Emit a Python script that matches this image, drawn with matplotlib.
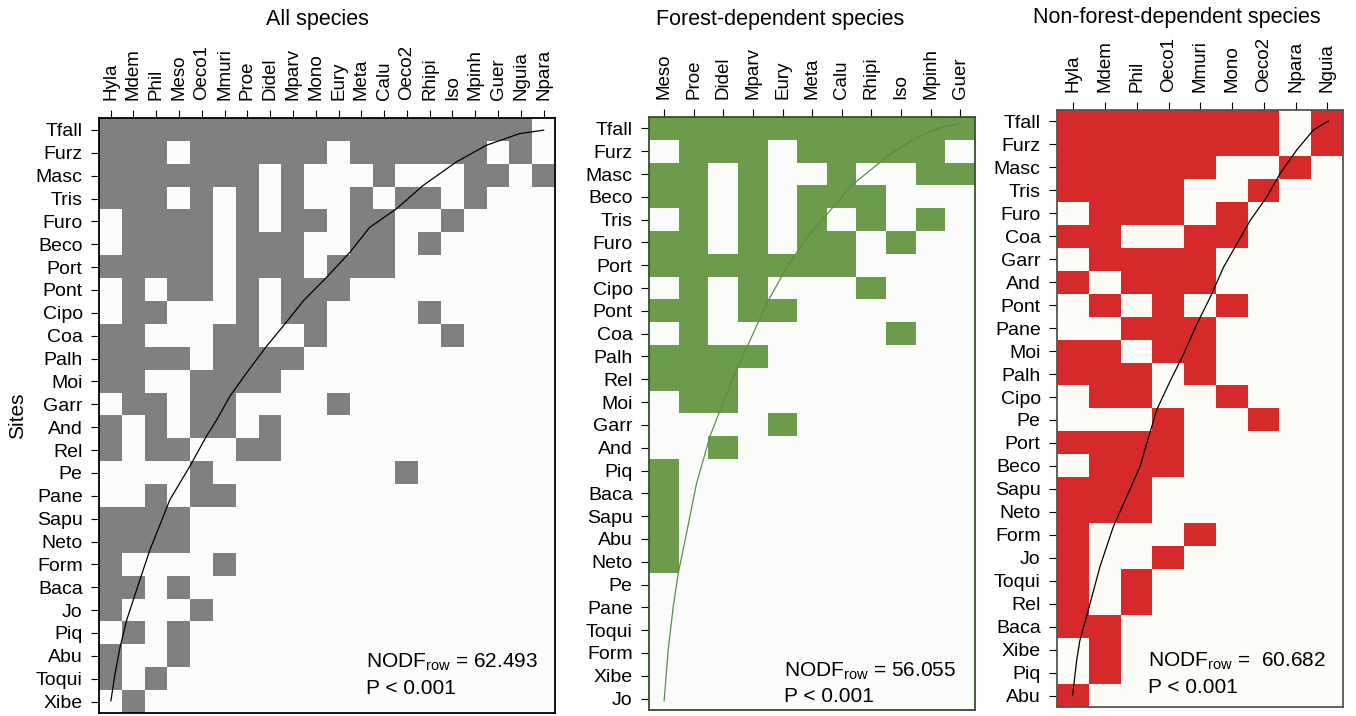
import numpy as np
import matplotlib
matplotlib.use("Agg")
import matplotlib.pyplot as plt
from matplotlib.colors import ListedColormap

plt.rcParams['font.family'] = ['Liberation Sans', 'DejaVu Sans']
plt.rcParams['mathtext.fontset'] = 'custom'
plt.rcParams['mathtext.rm'] = 'Liberation Sans'
plt.rcParams['mathtext.it'] = 'Liberation Sans:italic'

# ---------------- all species ----------------
all_species = ["Hyla", "Mdem", "Phil", "Meso", "Oeco1", "Mmuri", "Proe", "Didel",
               "Mparv", "Mono", "Eury", "Meta", "Calu", "Oeco2", "Rhipi", "Iso",
               "Mpinh", "Guer", "Nguia", "Npara"]
all_sites = ["Tfall", "Furz", "Masc", "Tris", "Furo", "Beco", "Port", "Pont", "Cipo",
             "Coa", "Palh", "Moi", "Garr", "And", "Rel", "Pe", "Pane", "Sapu", "Neto",
             "Form", "Baca", "Jo", "Piq", "Abu", "Toqui", "Xibe"]
all_matrix = [
    "11111111111111111110",
    "11101111110111111010",
    "11111110100010001101",
    "11101010100101101000",
    "01111010110110010000",
    "01111011100110100000",
    "11111011101110000000",
    "01011010111000000000",
    "01100010110000100000",
    "11000110010000010000",
    "11110111100000000000",
    "11001111000000000000",
    "01101100001000000000",
    "10101101000000000000",
    "10110011000000000000",
    "00001000000001000000",
    "00101100000000000000",
    "11110000000000000000",
    "11110000000000000000",
    "10000100000000000000",
    "11010000000000000000",
    "10001000000000000000",
    "01010000000000000000",
    "10010000000000000000",
    "10100000000000000000",
    "01000000000000000000",
]
# isocline, in (column, row) units
all_curve_x = [19.50, 18.45, 16.99, 15.67, 14.21, 13.04, 11.87, 10.99, 9.97, 8.95, 8.07,
               7.34, 6.46, 5.73, 5.15, 4.71, 3.98, 3.10, 2.22, 1.78, 1.20, 0.91, 0.69, 0.51]
all_curve_y = [0.51, 0.66, 1.17, 1.90, 2.93, 3.95, 4.76, 5.86, 6.95, 7.98, 9.08,
               9.96, 11.13, 12.15, 13.18, 13.88, 15.20, 16.67, 18.87, 20.18, 21.94, 23.12, 24.29, 25.46]
all_nodf = "62.493"

# ---------------- forest-dependent ----------------
forest_species = ["Meso", "Proe", "Didel", "Mparv", "Eury", "Meta", "Calu", "Rhipi",
                  "Iso", "Mpinh", "Guer"]
forest_sites = ["Tfall", "Furz", "Masc", "Beco", "Tris", "Furo", "Port", "Cipo", "Pont",
                "Coa", "Palh", "Rel", "Moi", "Garr", "And", "Piq", "Baca", "Sapu", "Abu",
                "Neto", "Pe", "Pane", "Toqui", "Form", "Xibe", "Jo"]
forest_matrix = [
    "11111111111",
    "01110111110",
    "11010010011",
    "11010111000",
    "01010101010",
    "11010110100",
    "11111110000",
    "01010001000",
    "11011000000",
    "01000000100",
    "11110000000",
    "11100000000",
    "01100000000",
    "00001000000",
    "00100000000",
    "10000000000",
    "10000000000",
    "10000000000",
    "10000000000",
    "10000000000",
    "00000000000",
    "00000000000",
    "00000000000",
    "00000000000",
    "00000000000",
    "00000000000",
]
forest_curve_x = [10.50, 9.82, 9.03, 8.13, 7.57, 6.89, 6.10, 5.32, 4.64, 3.96, 3.40,
                  2.84, 2.39, 2.05, 1.60, 1.26, 0.98, 0.81, 0.64, 0.50]
forest_curve_y = [0.29, 0.47, 0.90, 1.63, 2.22, 2.94, 4.11, 5.28, 6.59, 8.19, 9.80,
                  11.40, 12.86, 14.00, 16.04, 18.23, 19.99, 21.45, 23.34, 25.60]
forest_nodf = "56.055"

# ---------------- non-forest-dependent ----------------
open_species = ["Hyla", "Mdem", "Phil", "Oeco1", "Mmuri", "Mono", "Oeco2", "Npara", "Nguia"]
open_sites = ["Tfall", "Furz", "Masc", "Tris", "Furo", "Coa", "Garr", "And", "Pont", "Pane",
              "Moi", "Palh", "Cipo", "Pe", "Port", "Beco", "Sapu", "Neto", "Form", "Jo",
              "Toqui", "Rel", "Baca", "Xibe", "Piq", "Abu"]
open_matrix = [
    "111111101",
    "111111101",
    "111110010",
    "111100100",
    "011101000",
    "110011000",
    "011110000",
    "101110000",
    "010101000",
    "001110000",
    "110110000",
    "111010000",
    "011001000",
    "000100100",
    "111100000",
    "011100000",
    "111000000",
    "111000000",
    "100010000",
    "100100000",
    "101000000",
    "101000000",
    "110000000",
    "010000000",
    "010000000",
    "100000000",
]
open_curve_x = [8.53, 8.06, 7.53, 7.01, 6.59, 6.07, 5.65, 5.23, 4.81, 4.39, 3.97, 3.55,
                3.13, 2.60, 2.18, 1.76, 1.34, 1.03, 0.71, 0.61, 0.48]
open_curve_y = [0.48, 0.87, 1.75, 2.77, 3.79, 4.81, 5.83, 6.85, 8.16, 9.33, 10.64, 11.81,
                13.05, 15.54, 16.85, 18.16, 19.90, 21.50, 23.10, 23.97, 25.50]
open_nodf = " 60.682"

W, H = 1356, 716
fig = plt.figure(figsize=(W / 100, H / 100), dpi=100)
fig.patch.set_facecolor('white')


def px_axes(left, right, top, bottom):
    return fig.add_axes([left / W, 1 - bottom / H, (right - left) / W, (bottom - top) / H])


def draw_panel(ax, matrix, species, sites, fill, empty, edge, curve_x, curve_y,
               curve_col, nodf, tx, ty):
    m = np.array([[int(c) for c in row] for row in matrix])
    nr, nc = m.shape
    ax.imshow(m, cmap=ListedColormap([empty, fill]), vmin=0, vmax=1, aspect='auto',
              interpolation='nearest', extent=(0, nc, nr, 0))
    ax.plot(curve_x, curve_y, color=curve_col, lw=0.9)
    ax.set_xlim(0, nc)
    ax.set_ylim(nr, 0)
    ax.xaxis.tick_top()
    ax.set_xticks(np.arange(nc) + 0.5)
    ax.set_xticklabels(species, rotation=90, fontsize=13.5)
    ax.set_yticks(np.arange(nr) + 0.5)
    ax.set_yticklabels(sites, fontsize=14)
    ax.tick_params(axis='x', length=6, pad=7, width=0.8)
    ax.tick_params(axis='y', length=6, pad=6, width=0.8)
    for s in ax.spines.values():
        s.set_color(edge)
        s.set_linewidth(1.3)
    ax.text(tx, ty + 0.044, r'NODF$_{\mathrm{row}}$ = ' + nodf, transform=ax.transAxes,
            fontsize=15, va='center', ha='left')
    ax.text(tx, ty, "P < 0.001", transform=ax.transAxes, fontsize=15, va='center', ha='left')


def px_title(x, y, text):
    fig.text(x / W, 1 - y / H, text, fontsize=15.5, ha='center', va='center')


ax1 = px_axes(99.3, 555, 118.5, 713)
draw_panel(ax1, all_matrix, all_species, all_sites, '#808080', '#fcfcfb', 'black',
           all_curve_x, all_curve_y, 'black', all_nodf, 0.585, 0.042)
ax1.set_ylabel("Sites", fontsize=15, labelpad=6)
px_title(317, 20, "All species")

ax2 = px_axes(649.3, 975, 117, 710)
draw_panel(ax2, forest_matrix, forest_species, forest_sites, '#6b9b4b', '#fcfcfb', '#35502d',
           forest_curve_x, forest_curve_y, '#5e8c4c', forest_nodf, 0.414, 0.022)
px_title(780, 20, "Forest-dependent species")

ax3 = px_axes(1057.3, 1343.3, 110, 707)
draw_panel(ax3, open_matrix, open_species, open_sites, '#d62a2a', '#fdfcf6', '#555555',
           open_curve_x, open_curve_y, 'black', open_nodf, 0.317, 0.032)
px_title(1177, 18, "Non-forest-dependent species")

fig.savefig("out.png", dpi=100)
